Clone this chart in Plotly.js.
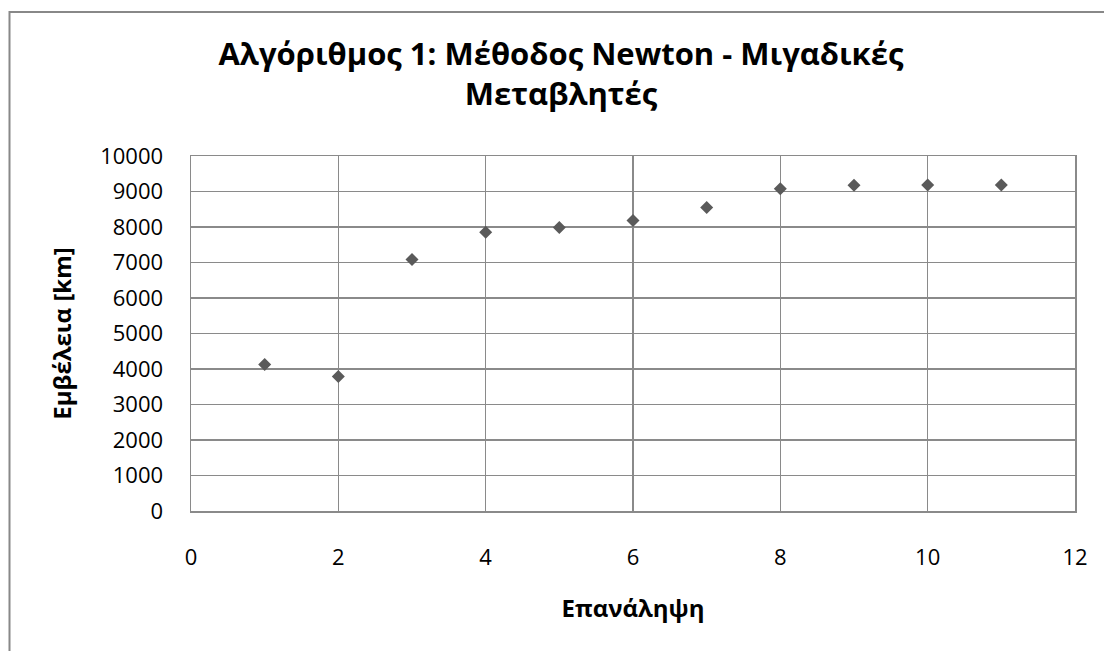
<!DOCTYPE html>
<html>
<head>
<meta charset="utf-8">
<script src="https://cdn.plot.ly/plotly-3.0.1.min.js"></script>
<style>html,body{margin:0;padding:0;background:#fff;}#chart{width:1104px;height:651px;}</style>
</head>
<body>
<div id="chart"></div>
<script>
const iterations = [1, 2, 3, 4, 5, 6, 7, 8, 9, 10, 11];
const rangeKm = [4130, 3790, 7085, 7855, 7985, 8180, 8550, 9080, 9175, 9185, 9185];
const titleText = "Αλγόριθμος 1: Μέθοδος Newton - Μιγαδικές<br>Μεταβλητές";
const xTitle = "Επανάληψη";
const yTitle = "Εμβέλεια [km]";

const FONT = "'Open Sans', 'Noto Sans', sans-serif";
const GRID = "#8a8a8a";

const trace = {
  x: iterations,
  y: rangeKm,
  type: "scatter",
  mode: "markers",
  marker: {symbol: "diamond", size: 10, color: "#5a5a5a"},
  showlegend: false,
  cliponaxis: false
};

const layout = {
  width: 1104,
  height: 651,
  margin: {l: 191, r: 29, t: 156, b: 140},
  paper_bgcolor: "#ffffff",
  plot_bgcolor: "#ffffff",
  font: {family: FONT, color: "#000000"},
  title: {
    text: titleText,
    font: {family: FONT, size: 31, weight: 700, color: "#000000"},
    x: 561 / 1104, xanchor: "center", xref: "container",
    y: 1 - 65 / 651, yanchor: "top", yref: "container"
  },
  xaxis: {
    range: [0, 12], dtick: 2, tick0: 0,
    showgrid: true, gridcolor: GRID, gridwidth: 1.5,
    showline: true, linecolor: GRID, linewidth: 1.5, mirror: true,
    zeroline: false, ticks: "", ticklabelstandoff: 26,
    tickfont: {family: FONT, size: 22, color: "#000000"},
    title: {text: xTitle, standoff: 30, font: {family: FONT, size: 24, weight: 700, color: "#000000"}},
    automargin: false
  },
  yaxis: {
    range: [0, 10000], dtick: 1000, tick0: 0, tickformat: "d",
    showgrid: true, gridcolor: GRID, gridwidth: 1.5,
    showline: true, linecolor: GRID, linewidth: 1.5, mirror: true,
    zeroline: false, ticks: "", ticklabelstandoff: 22,
    tickfont: {family: FONT, size: 22, color: "#000000"},
    title: {text: yTitle, standoff: 22, font: {family: FONT, size: 24, weight: 700, color: "#000000"}},
    automargin: false
  },
  shapes: [{
    type: "rect", xref: "paper", yref: "paper",
    x0: (9.5 - 191) / 884, x1: (1120 - 191) / 884,
    y0: (511 - 670) / 355, y1: (511 - 12) / 355,
    line: {color: "#888888", width: 2}, fillcolor: "rgba(0,0,0,0)", layer: "below"
  }]
};

Plotly.newPlot("chart", [trace], layout, {displayModeBar: false, staticPlot: true});
</script>
</body>
</html>
